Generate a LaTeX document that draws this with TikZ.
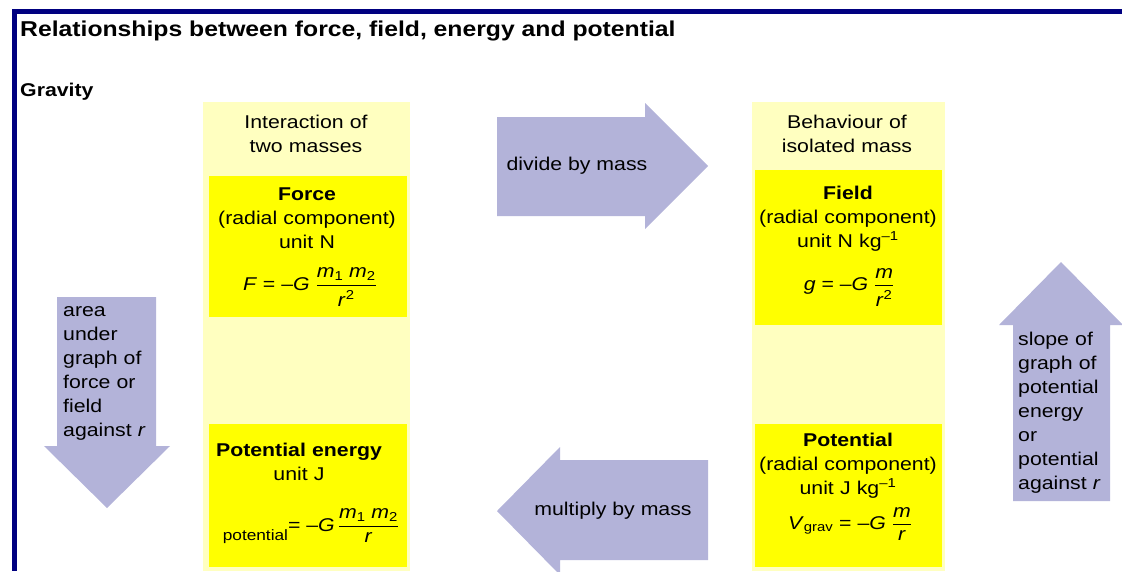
\documentclass[tikz,border=0pt]{standalone}
\usepackage{amsmath}
\usepackage{fontspec}
\setmainfont{Liberation Sans}[FakeStretch=1.15]
\usepackage{xcolor}
\usetikzlibrary{positioning}
\definecolor{navyrule}{RGB}{0,0,128}
\definecolor{lavender}{RGB}{179,179,217}
\definecolor{paleyel}{RGB}{255,255,192}
\definecolor{boxyel}{RGB}{255,255,0}
\newcommand{\bodyfont}{\fontsize{18.5}{24}\selectfont}
\newcommand{\titlefont}{\fontsize{21.5}{26}\selectfont\bfseries}
\newcommand{\headfont}{\fontsize{18.5}{24}\selectfont\bfseries}
\newcommand{\gfrac}[2]{$\genfrac{}{}{1.5pt}{0}{\text{#1}}{\text{#2}}$}

\begin{document}
\begin{tikzpicture}[x=1pt, y=-1pt,
    col/.style={fill=paleyel, inner sep=0pt, minimum height=469pt},
    qbox/.style={fill=boxyel, inner sep=0pt},
    lines/.style={anchor=base, inner sep=0pt, text width=210pt, align=center, font=\bodyfont},
    eqn/.style={anchor=base, inner sep=0pt, font=\bodyfont},
    armtext/.style={anchor=base west, inner sep=0pt, text width=110pt, align=left, font=\bodyfont},
    block/.style={fill=lavender}
]
\useasboundingbox (0,0) rectangle (1122,571);
\fill[navyrule] (12,9) rectangle (1122,14);
\fill[navyrule] (12,9) rectangle (17,571);

\node[anchor=base west, inner sep=0pt, font=\titlefont] (title) at (20,36) {Relationships between force, field, energy and potential};
\node[anchor=base west, inner sep=0pt, font=\headfont] (gravity) at (20,96) {Gravity};

% columns and quantity boxes
\node[col, minimum width=207pt] (masscol) at (306.5,336.5) {};
\node[col, minimum width=193pt] (isocol) at (848.5,336.5) {};
\node[qbox, minimum width=198pt, minimum height=141pt] (forcebox) at (308,246.5) {};
\node[qbox, minimum width=198pt, minimum height=143pt] (pebox) at (308,495.5) {};
\node[qbox, minimum width=187pt, minimum height=155pt] (fieldbox) at (848.5,247.5) {};
\node[qbox, minimum width=187pt, minimum height=143pt] (potbox) at (848.5,495.5) {};

\node[lines] (masshdr) at (306,128) {Interaction of\\two masses};
\node[lines] (isohdr) at (847,128) {Behaviour of\\isolated mass};

\node[lines] (forcetxt) at (307,200) {\textbf{Force}\\(radial component)\\unit N};
\node[eqn] (forceeq) at (310,290) {\textit{F} = –\textit{G} \gfrac{\textit{m}\textsubscript{1} \textit{m}\textsubscript{2}}{\textit{r}\textsuperscript{2}}};

\node[lines] (fieldtxt) at (848,199) {\textbf{Field}\\(radial component)\\unit N kg\textsuperscript{–1}};
\node[eqn] (fieldeq) at (849,290) {\textit{g} = –\textit{G} \gfrac{\textit{m}}{\textit{r}\textsuperscript{2}}};

\node[lines] (petxt) at (299,456) {\textbf{Potential energy}\\unit J};
\node[eqn] (peeq) at (311,531) {{\fontsize{15}{15}\selectfont\raisebox{-9pt}{potential}}= –\textit{G}\,\gfrac{\textit{m}\textsubscript{1} \textit{m}\textsubscript{2}}{\textit{r}}};

\node[lines] (pottxt) at (848,446) {\textbf{Potential}\\(radial component)\\unit J kg\textsuperscript{–1}};
\node[eqn] (poteq) at (850,529) {\textit{V}\textsubscript{grav} = –\textit{G} \gfrac{\textit{m}}{\textit{r}}};

% block arrows
\fill[block] (497,117) -- (645,117) -- (645,103) -- (708,166) -- (645,229) -- (645,216) -- (497,216) -- cycle;
\fill[block] (708,460) -- (560,460) -- (560,447) -- (497,511) -- (560,575) -- (560,560) -- (708,560) -- cycle;
\fill[block] (57,297) -- (156,297) -- (156,446) -- (170,446) -- (107,508) -- (44,446) -- (57,446) -- cycle;
\fill[block] (1013,501) -- (1110,501) -- (1110,325) -- (1123,325) -- (1061,262) -- (999,325) -- (1013,325) -- cycle;

\node[eqn] (divtxt) at (577,170) {divide by mass};
\node[eqn] (multxt) at (613,515) {multiply by mass};
\node[armtext] (areatxt) at (63,316) {area\\under\\graph of\\force or\\field\\against \textit{r}};
\node[armtext] (slopetxt) at (1018,345) {slope of\\graph of\\potential\\energy\\or\\potential\\against \textit{r}};
\end{tikzpicture}
\end{document}
